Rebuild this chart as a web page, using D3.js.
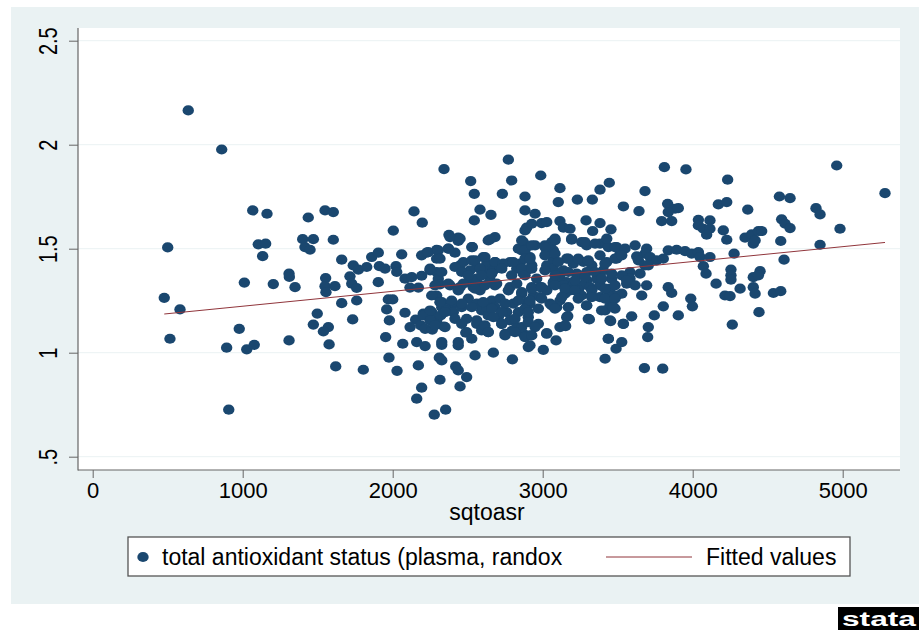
<!DOCTYPE html>
<html>
<head>
<meta charset="utf-8">
<script src="https://cdn.jsdelivr.net/npm/d3@7"></script>
<style>
  body { margin: 0; background: #fff; }
  svg text { font-family: "Liberation Sans", Arial, sans-serif; fill: #000; }
</style>
</head>
<body>
<div id="chart"></div>
<script>
// observations: [sqtoasr, total antioxidant status]
const obs = [
  [637,2.165],[860,1.977],[2342,1.883],[500,1.506],[1067,1.684],[1162,1.668],[1437,1.650],[1549,1.684],[1604,1.676],[2142,1.679],
  [2197,1.625],[2004,1.587],[2375,1.567],[1104,1.521],[1153,1.524],[1133,1.464],[1400,1.546],[1471,1.546],[1415,1.508],[1449,1.495],
  [1604,1.543],[1660,1.447],[1737,1.420],[1771,1.399],[1827,1.412],[1860,1.460],[1904,1.481],[1911,1.416],[1949,1.404],[2022,1.416],
  [2027,1.388],[2060,1.473],[2193,1.468],[2227,1.481],[2293,1.495],[2371,1.500],[2293,1.452],[2415,1.481],[1011,1.337],[1204,1.330],
  [1309,1.380],[1311,1.364],[1349,1.315],[1553,1.359],[1549,1.320],[1555,1.291],[1615,1.320],[1715,1.367],[1727,1.332],[1760,1.311],
  [1904,1.339],[2082,1.356],[2127,1.363],[2115,1.313],[2171,1.313],[2193,1.370],[2249,1.396],[2293,1.388],[2304,1.356],[2315,1.328],
  [2293,1.275],[2327,1.243],[477,1.264],[582,1.208],[1660,1.238],[1760,1.251],[1971,1.256],[2000,1.256],[1960,1.208],[1497,1.188],
  [2082,1.192],[2204,1.188],[2260,1.195],[2327,1.219],[2393,1.227],[1471,1.135],[1571,1.123],[1538,1.102],[1576,1.040],[1733,1.160],
  [1978,1.155],[1953,1.075],[2067,1.043],[2153,1.159],[2204,1.179],[2116,1.123],[2187,1.131],[2216,1.115],[2264,1.111],[2293,1.155],
  [2320,1.179],[2342,1.126],[2160,1.051],[2216,1.032],[2327,1.038],[2437,1.035],[515,1.067],[893,1.024],[977,1.115],[1027,1.016],
  [1077,1.038],[1309,1.059],[1620,0.934],[1804,0.918],[1975,0.976],[2029,0.913],[2171,0.939],[2311,0.976],[2327,0.963],[2420,0.934],
  [2437,0.915],[2193,0.832],[2315,0.870],[2449,0.838],[2160,0.779],[2277,0.702],[2353,0.726],[907,0.726],
  [2771,1.928],[2520,1.825],[2793,1.828],[2544,1.764],[2731,1.764],[2882,1.751],[2582,1.688],[2655,1.663],[2544,1.636],[2882,1.684],
  [2437,1.553],[2437,1.537],[2637,1.540],[2682,1.556],[2882,1.588],[2871,1.532],[2531,1.508],[2838,1.500],[2860,1.492],[2449,1.420],
  [2471,1.436],[2527,1.444],[2560,1.412],[2515,1.396],[2604,1.460],[2627,1.428],[2615,1.396],[2682,1.436],[2671,1.396],[2715,1.412],
  [2782,1.436],[2827,1.404],[2871,1.380],[2893,1.396],[2382,1.324],[2449,1.315],[2515,1.339],[2560,1.356],[2582,1.324],[2649,1.348],
  [2693,1.332],[2782,1.315],[2827,1.332],
  [2393,1.243],[2404,1.195],[2460,1.219],[2437,1.308],[2471,1.332],[2537,1.315],[2582,1.300],[2504,1.260],[2560,1.236],[2593,1.203],
  [2493,1.163],[2560,1.139],[2593,1.107],[2487,1.096],[2637,1.179],[2637,1.099],[2660,1.251],[2682,1.219],[2715,1.260],[2704,1.171],
  [2727,1.139],[2627,1.219],[2760,1.195],[2782,1.155],[2749,1.091],[2804,1.236],[2838,1.195],[2827,1.123],[2860,1.284],[2893,1.243],
  [2904,1.171],[2871,1.091],[2904,1.027],[2549,0.987],[2671,1.000],[2798,0.968],[2493,0.883],
  [2987,1.852],[3811,1.892],[3115,1.791],[3104,1.724],[3231,1.736],[3331,1.736],[3382,1.784],[3444,1.817],[3682,1.777],[3538,1.703],
  [3642,1.681],[3833,1.716],[3882,1.692],[3837,1.676],[3793,1.633],[3860,1.633],[2949,1.668],[2893,1.601],[2927,1.620],[2993,1.623],
  [3027,1.628],[3115,1.633],[3138,1.601],[3182,1.596],[3289,1.636],[3382,1.623],[3333,1.585],[3455,1.593],[2949,1.516],[3015,1.516],
  [3060,1.532],[3082,1.548],[3027,1.484],[3071,1.492],[3193,1.543],[3260,1.532],[3293,1.516],[3382,1.524],[3438,1.508],[3493,1.508],
  [3616,1.516],[3693,1.500],[3682,1.476],[3837,1.492],[3893,1.495],[2849,1.428],[2915,1.460],[2927,1.420],[3027,1.420],[3071,1.444],
  [3160,1.452],[3204,1.428],[3271,1.436],[3327,1.420],[3427,1.436],[3493,1.452],[3516,1.476],[3627,1.463],[3638,1.444],[3716,1.460],
  [3760,1.444],[3804,1.452],[3682,1.420],[3704,1.420],[3071,1.404],[3138,1.396],[3227,1.380],[3293,1.388],[3404,1.396],[3582,1.388],
  [3649,1.380],[2960,1.356],[2982,1.315],[3071,1.339],[3115,1.363],[3160,1.339],[3293,1.348],[3360,1.356],[3460,1.356],[3582,1.356],
  [3837,1.315],
  [2927,1.315],[3027,1.300],[3071,1.332],[3138,1.324],[3204,1.324],[3260,1.324],[3316,1.315],[3382,1.324],[3449,1.308],[3493,1.275],
  [3560,1.332],[3616,1.324],[3693,1.324],[2915,1.236],[2938,1.275],[2982,1.267],[3049,1.236],[3093,1.219],[3115,1.251],[3149,1.284],
  [3182,1.300],[3238,1.300],[3260,1.275],[3293,1.227],[3327,1.275],[3382,1.267],[3438,1.275],[3416,1.203],[3449,1.227],[3482,1.212],
  [3660,1.275],[3860,1.287],[3804,1.223],[3744,1.179],[3904,1.179],[3593,1.175],[3538,1.139],[3453,1.152],[3311,1.160],[3167,1.176],
  [3153,1.128],[3027,1.094],[2915,1.083],[2915,1.035],[3089,1.059],[3004,1.014],[3704,1.123],[3700,1.075],[3438,1.067],[3489,1.019],
  [3416,0.971],[3678,0.926],[3800,0.923],[2795,1.105],[2971,1.139],[3115,1.123],
  [3955,1.881],[4960,1.900],[4233,1.832],[5282,1.767],[4578,1.751],[4649,1.743],[3904,1.695],[4171,1.713],[4227,1.724],[4367,1.688],
  [4822,1.695],[4849,1.665],[4038,1.639],[4115,1.636],[4038,1.612],[4071,1.596],[4115,1.596],[4093,1.567],[4204,1.588],[4227,1.543],
  [4593,1.641],[4616,1.620],[4649,1.599],[4982,1.596],[4349,1.553],[4393,1.569],[4438,1.585],[4404,1.524],[4416,1.540],[4460,1.585],
  [4587,1.537],[4849,1.519],[3949,1.488],[3993,1.476],[4038,1.484],[4049,1.460],[4115,1.460],[4276,1.476],[4071,1.416],[4089,1.380],
  [4609,1.447],[4156,1.332],[4255,1.400],[4255,1.372],[4255,1.351],[4316,1.308],[4404,1.363],[4449,1.392],[4438,1.372],[4404,1.315],
  [4416,1.284],[4538,1.287],[4587,1.296],[3987,1.260],[3998,1.223],[4215,1.275],[4249,1.272],[4442,1.195],[4264,1.135],
  // dense core
  [2382,1.556],[2449,1.548],[2649,1.545],[2860,1.540],[2237,1.484],[2304,1.492],[2371,1.500],[2315,1.452],[2527,1.508],[2615,1.460],
  [2549,1.444],[2682,1.436],[2737,1.428],[2804,1.436],[2882,1.492],[2882,1.452],[2249,1.404],[2327,1.388],[2415,1.412],[2460,1.388],
  [2504,1.372],[2582,1.404],[2593,1.372],[2660,1.380],[2727,1.404],[2793,1.372],[2860,1.404],[2882,1.372],[2282,1.324],[2371,1.332],
  [2437,1.300],[2549,1.308],[2615,1.324],[2682,1.324],[2771,1.300],[2860,1.291],[2260,1.275],[2315,1.243],[2393,1.251],[2460,1.236],
  [2527,1.219],[2604,1.243],[2660,1.212],[2749,1.236],[2727,1.195],[2837,1.251],[2882,1.212],[2249,1.203],[2349,1.195],[2249,1.155],
  [2282,1.131],[2415,1.163],[2460,1.139],[2560,1.155],[2615,1.131],[2671,1.171],[2727,1.139],[2815,1.163],[2860,1.123],[2349,1.123],
  [2493,1.099],[2637,1.099],[2749,1.083],[2815,1.099],[2327,1.051],[2437,1.051],[2527,1.067],[2882,1.075],
  [2927,1.516],[3015,1.508],[3082,1.540],[3193,1.548],[3282,1.532],[3349,1.524],[3427,1.548],[3482,1.508],[3549,1.500],[2915,1.452],
  [3015,1.468],[3082,1.476],[3104,1.436],[3171,1.452],[3237,1.452],[3304,1.444],[3382,1.468],[3415,1.428],[3482,1.452],[3527,1.468],
  [2927,1.404],[3015,1.396],[3082,1.372],[3171,1.388],[3215,1.348],[3282,1.363],[3349,1.388],[3393,1.356],[3460,1.380],[3527,1.372],
  [3560,1.348],[2927,1.308],[2993,1.315],[3082,1.324],[3149,1.308],[3215,1.300],[3327,1.300],[3415,1.308],[3482,1.324],[3527,1.284],
  [2915,1.251],[2993,1.260],[3127,1.267],[3237,1.260],[3327,1.267],[3415,1.260],[3482,1.260],[2904,1.195],[2971,1.212],[3060,1.227],
  [3082,1.212],[3171,1.219],[3293,1.227],[3393,1.203],[3471,1.219],[2904,1.147],[2949,1.123],[3160,1.171],[3149,1.131],[3304,1.163],
  [3449,1.155],[3537,1.139],[2927,1.083],[3027,1.091],[3437,1.067],[3527,1.051]
];

// fitted values (linear fit) at the ends of the x range
const fitX = [477, 5282];
const fitY = [1.186, 1.530];

const xTicks = [0, 1000, 2000, 3000, 4000, 5000];
const yTicks = [0.5, 1, 1.5, 2, 2.5];
const xTitle = "sqtoasr";
const legendLabels = ["total antioxidant status (plasma, randox", "Fitted values"];

const W = 919, H = 630;
const plot = {left: 78, top: 28, right: 900, bottom: 470};
const navy = "#1a476f", maroon = "#90353b", axisGrey = "#666";

let svg = d3.select("#chart").append("svg")
    .attr("width", W)
    .attr("height", H);

// outer graph region
svg.append("rect").attr("x", 11).attr("y", 7).attr("width", W - 11).attr("height", 597)
    .attr("fill", "#eaf2f3");
svg.append("rect")
    .attr("x", plot.left).attr("y", plot.top)
    .attr("width", plot.right - plot.left).attr("height", plot.bottom - plot.top)
    .attr("fill", "#fff");

let x = d3.scaleLinear().domain([0, 5000]).range([92.7, 842.7]);
let y = d3.scaleLinear().domain([0.5, 2.5]).range([456.7, 40.7]);

// grid lines
svg.append("g").selectAll("line").data(yTicks).enter().append("line")
    .attr("x1", plot.left).attr("x2", plot.right)
    .attr("y1", d => y(d)).attr("y2", d => y(d))
    .attr("stroke", "#eaf2f3").attr("stroke-width", 1);

// y axis
let yAxis = d3.axisLeft(y).tickValues(yTicks).tickSize(9)
    .tickFormat(d => d === 0.5 ? ".5" : String(d));
let yg = svg.append("g").attr("transform", `translate(${plot.left},0)`).call(yAxis);
yg.select(".domain").remove();
yg.selectAll(".tick line").attr("stroke", axisGrey);
yg.selectAll(".tick text")
    .attr("x", null).attr("dy", null)
    .attr("transform", "translate(-21,0) rotate(-90) scale(1,1.25)")
    .attr("text-anchor", "middle")
    .style("font-size", "20px")
    .style("font-family", "Liberation Sans, Arial, sans-serif");

// x axis
let xAxis = d3.axisBottom(x).tickValues(xTicks).tickSize(8).tickFormat(d => String(d));
let xg = svg.append("g").attr("transform", `translate(0,${plot.bottom})`).call(xAxis);
xg.select(".domain").remove();
xg.selectAll(".tick line").attr("stroke", axisGrey);
xg.selectAll(".tick text")
    .attr("y", 28).attr("dy", null)
    .style("font-size", "22px")
    .style("font-family", "Liberation Sans, Arial, sans-serif");

// axis lines across full plot region
svg.append("line").attr("x1", plot.left).attr("x2", plot.left)
    .attr("y1", plot.top).attr("y2", plot.bottom + 0.5)
    .attr("stroke", axisGrey).attr("stroke-width", 1.2);
svg.append("line").attr("x1", plot.left).attr("x2", plot.right)
    .attr("y1", plot.bottom).attr("y2", plot.bottom)
    .attr("stroke", axisGrey).attr("stroke-width", 1.2);

svg.append("text").attr("x", 487).attr("y", 520)
    .attr("text-anchor", "middle").style("font-size", "23px").text(xTitle);

// scatter points
svg.append("g").selectAll("ellipse").data(obs).enter().append("ellipse")
    .attr("cx", d => x(d[0])).attr("cy", d => y(d[1]))
    .attr("rx", 5.7).attr("ry", 5.1)
    .attr("fill", navy);

// fitted line
svg.append("line")
    .attr("x1", x(fitX[0])).attr("y1", y(fitY[0]))
    .attr("x2", x(fitX[1])).attr("y2", y(fitY[1]))
    .attr("stroke", maroon).attr("stroke-width", 1);

// legend
let lg = svg.append("g");
lg.append("rect").attr("x", 128).attr("y", 537).attr("width", 722).attr("height", 39)
    .attr("fill", "#fff").attr("stroke", "#555").attr("stroke-width", 1.3);
lg.append("ellipse").attr("cx", 143).attr("cy", 557).attr("rx", 5.7).attr("ry", 5.1).attr("fill", navy);
lg.append("text").attr("x", 162).attr("y", 565).style("font-size", "23px").text(legendLabels[0]);
lg.append("line").attr("x1", 606).attr("x2", 692).attr("y1", 557).attr("y2", 557)
    .attr("stroke", maroon).attr("stroke-width", 1);
lg.append("text").attr("x", 706).attr("y", 565).style("font-size", "23px").text(legendLabels[1]);

// stata badge
svg.append("rect").attr("x", 838).attr("y", 607).attr("width", 81).attr("height", 23).attr("fill", "#000");
svg.append("text").attr("x", 842).attr("y", 626)
    .attr("textLength", 74).attr("lengthAdjust", "spacingAndGlyphs")
    .style("font-size", "20px").style("font-weight", "bold").style("fill", "#fff")
    .text("stata");
</script>
</body>
</html>
